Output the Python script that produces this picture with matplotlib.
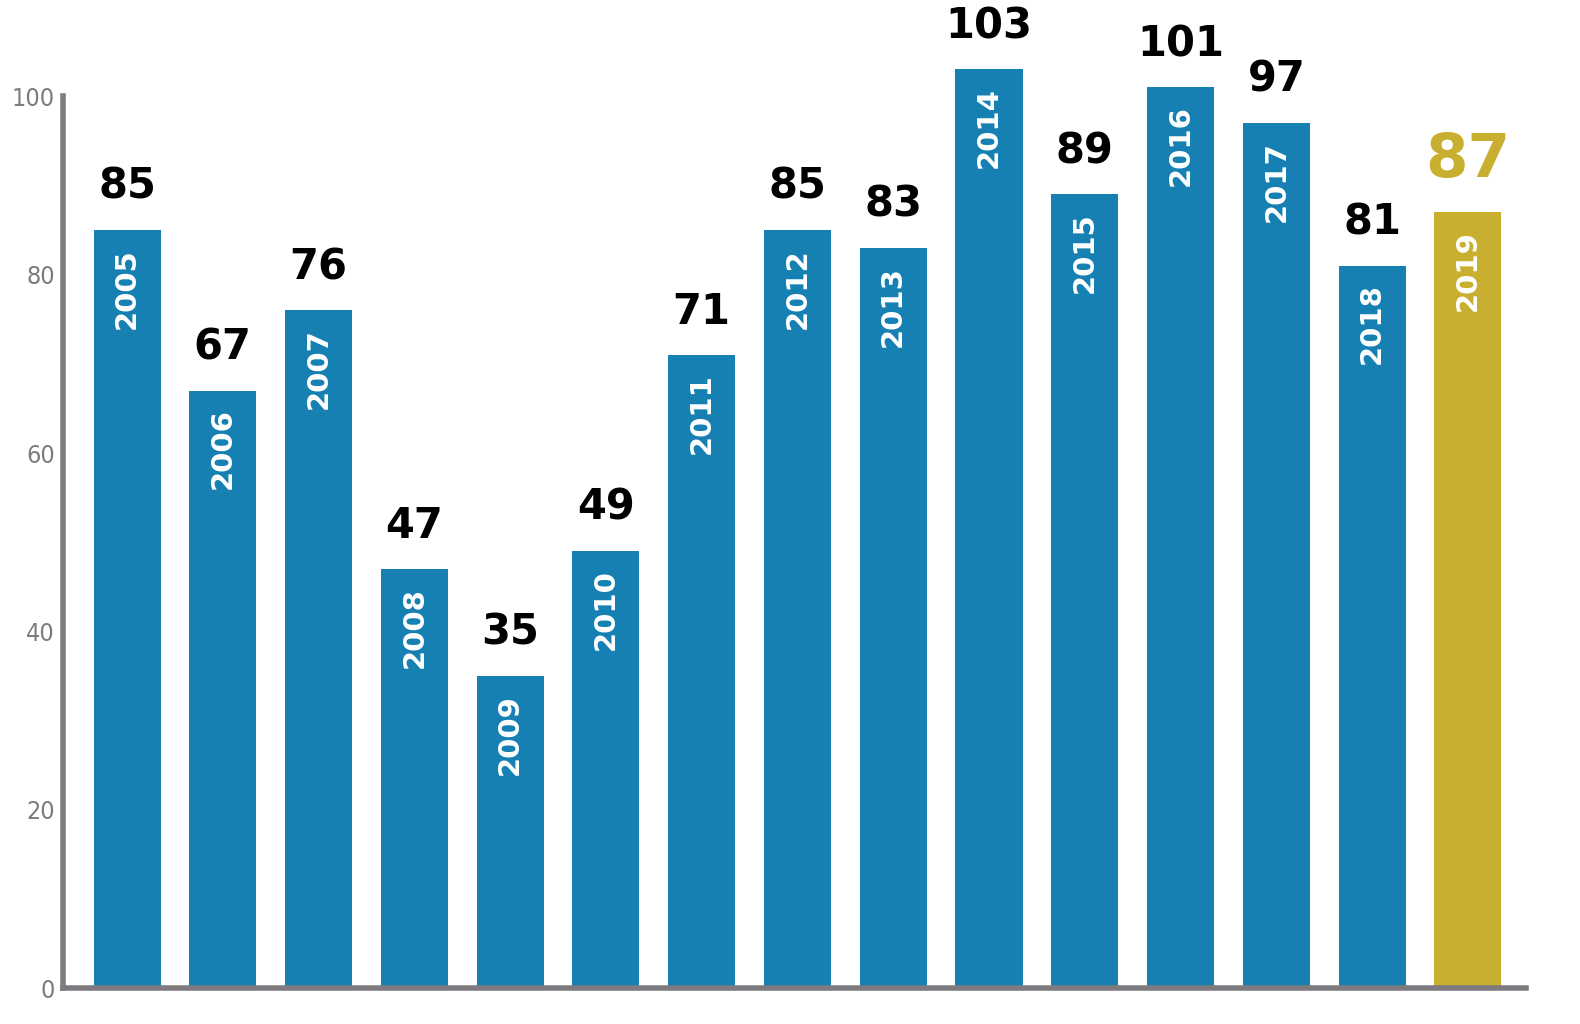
import matplotlib
matplotlib.use("Agg")
import matplotlib.pyplot as plt

years = ["2005", "2006", "2007", "2008", "2009", "2010", "2011", "2012",
         "2013", "2014", "2015", "2016", "2017", "2018", "2019"]
values = [85, 67, 76, 47, 35, 49, 71, 85, 83, 103, 89, 101, 97, 81, 87]
yticks = [0, 20, 40, 60, 80, 100]

blue = "#1580B1"
gold = "#C9AF2F"
grey = "#7D7B80"

fig = plt.figure(figsize=(15.8, 10.24), dpi=100)
ax = fig.add_axes([0.040, 0.035, 0.926, 0.871])

colors = [blue] * (len(years) - 1) + [gold]
x = list(range(len(years)))
ax.bar(x, values, width=0.70, color=colors, clip_on=False, zorder=2)

for i, (yr, v) in enumerate(zip(years, values)):
    last = i == len(years) - 1
    ax.text(i, v + 2.5, str(v), ha="center", va="bottom",
            fontsize=44 if last else 30, fontweight="bold",
            color=gold if last else "black", clip_on=False)
    ax.text(i, v - 2, yr, ha="center", va="top", rotation=90,
            fontsize=21, fontweight="bold", color="white")

ax.set_xlim(-0.667, 14.61)
ax.set_ylim(0, 100)
ax.set_xticks([])
ax.set_yticks(yticks)
ax.set_yticklabels([str(t) for t in yticks], fontsize=18, color=grey,
                   fontstretch="condensed")
ax.tick_params(axis="y", length=0, pad=6)
for s in ["top", "right"]:
    ax.spines[s].set_visible(False)
for s in ["left", "bottom"]:
    ax.spines[s].set_color(grey)
    ax.spines[s].set_linewidth(4)

fig.savefig("out.png", dpi=100)
